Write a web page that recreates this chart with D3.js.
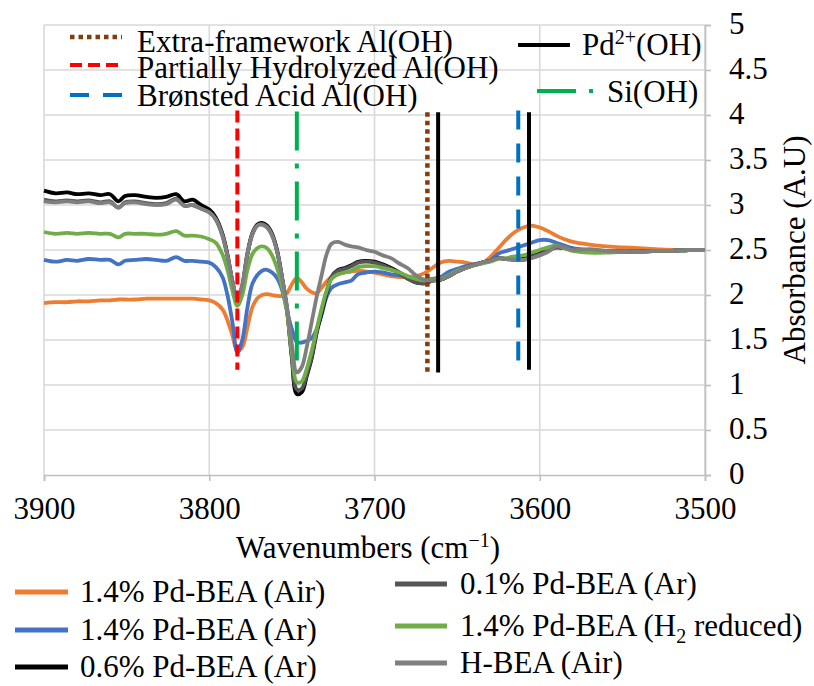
<!DOCTYPE html>
<html>
<head>
<meta charset="utf-8">
<script src="https://cdn.jsdelivr.net/npm/d3@7"></script>
<style>
  html, body { margin: 0; padding: 0; background: #fff; }
  svg { display: block; }
  svg text { font-family: "Liberation Serif", "Times New Roman", Tinos, "DejaVu Serif", "Noto Serif", serif; }
</style>
</head>
<body>
<svg id="chart" width="814" height="686"></svg>
<script>
// Wavenumber grid (cm^-1) shared by every spectrum
const wavenumbers = [3900,3893,3886,3880,3873,3866,3860,3855,3851,3845,3838,3832,3826,3820,3815,3810,3805,3800,3796,3792,
  3789,3786,3783,3780,3777,3774,3771,3768,3765,3762,3759,3756,3753,3750,3747,3744,3741,3738,3735,3732,
  3729,3726,3722,3718,3714,3710,3705,3700,3695,3690,3685,3680,3675,3670,3665,3660,3655,3650,3645,3640,
  3635,3630,3625,3620,3615,3610,3605,3600,3595,3590,3585,3580,3570,3560,3550,3540,3530,3520,3510,3500];

// Absorbance spectra
const pd14Air = [1.91,1.92,1.92,1.93,1.93,1.94,1.94,1.95,1.95,1.95,1.96,1.96,1.96,1.96,1.96,1.96,1.95,1.94,1.91,1.84,
  1.72,1.55,1.38,1.42,1.63,1.86,1.96,2.00,2.01,2.00,1.99,1.99,2.02,2.12,2.19,2.14,2.07,2.03,2.02,2.08,
  2.15,2.20,2.23,2.25,2.26,2.27,2.26,2.25,2.23,2.21,2.20,2.20,2.21,2.24,2.30,2.36,2.38,2.37,2.36,2.34,
  2.35,2.42,2.52,2.62,2.70,2.75,2.77,2.75,2.71,2.66,2.62,2.59,2.56,2.54,2.53,2.52,2.51,2.50,2.50,2.50];
const pd14Ar = [2.39,2.37,2.39,2.38,2.40,2.39,2.39,2.34,2.38,2.39,2.40,2.39,2.38,2.42,2.38,2.38,2.37,2.36,2.31,2.20,
  2.00,1.70,1.36,1.50,1.85,2.12,2.22,2.27,2.28,2.25,2.19,2.06,1.83,1.62,1.48,1.47,1.49,1.52,1.62,1.78,
  1.98,2.08,2.12,2.14,2.16,2.23,2.25,2.26,2.25,2.23,2.22,2.20,2.18,2.17,2.18,2.20,2.26,2.29,2.32,2.34,
  2.36,2.38,2.46,2.49,2.52,2.55,2.58,2.61,2.61,2.58,2.55,2.52,2.50,2.49,2.49,2.49,2.49,2.49,2.50,2.50];
const pd06Ar = [3.16,3.13,3.14,3.12,3.13,3.11,3.12,3.04,3.10,3.11,3.09,3.08,3.09,3.12,3.04,3.06,3.00,2.95,2.86,2.68,
  2.45,2.15,1.93,2.10,2.45,2.68,2.78,2.80,2.77,2.68,2.50,2.20,1.85,1.30,0.90,0.92,1.10,1.30,1.58,1.80,
  2.02,2.20,2.28,2.30,2.33,2.37,2.38,2.37,2.34,2.30,2.25,2.19,2.14,2.13,2.16,2.17,2.21,2.26,2.30,2.33,
  2.36,2.38,2.41,2.40,2.40,2.40,2.43,2.46,2.50,2.53,2.52,2.50,2.49,2.48,2.48,2.48,2.49,2.49,2.50,2.50];
const pd01Ar = [3.06,3.04,3.05,3.04,3.05,3.03,3.04,2.97,3.03,3.04,3.02,3.01,3.02,3.07,2.99,3.00,2.96,2.92,2.84,2.66,
  2.43,2.14,1.94,2.10,2.44,2.67,2.77,2.79,2.76,2.67,2.49,2.19,1.84,1.32,0.95,0.96,1.12,1.32,1.60,1.82,
  2.03,2.20,2.27,2.29,2.32,2.36,2.37,2.36,2.33,2.29,2.24,2.18,2.14,2.13,2.16,2.17,2.21,2.26,2.30,2.33,
  2.36,2.38,2.41,2.40,2.39,2.39,2.42,2.45,2.49,2.53,2.52,2.50,2.49,2.48,2.48,2.48,2.49,2.49,2.50,2.50];
const pd14H2 = [2.70,2.68,2.69,2.68,2.69,2.68,2.68,2.64,2.68,2.68,2.68,2.67,2.68,2.71,2.66,2.66,2.65,2.62,2.58,2.45,
  2.28,2.05,1.88,2.00,2.27,2.45,2.52,2.54,2.52,2.44,2.30,2.10,1.82,1.35,1.03,1.04,1.18,1.38,1.62,1.85,
  2.05,2.18,2.23,2.25,2.27,2.31,2.32,2.32,2.30,2.28,2.25,2.21,2.18,2.16,2.17,2.18,2.22,2.27,2.30,2.33,
  2.35,2.37,2.40,2.41,2.43,2.44,2.47,2.50,2.53,2.55,2.52,2.49,2.47,2.47,2.48,2.48,2.49,2.49,2.50,2.50];
const hbeaAir = [3.04,3.03,3.04,3.03,3.04,3.02,3.03,2.97,3.02,3.03,3.01,3.00,3.01,3.06,2.99,3.00,2.96,2.92,2.84,2.66,
  2.44,2.16,1.96,2.12,2.45,2.67,2.77,2.78,2.75,2.66,2.49,2.20,1.88,1.45,1.14,1.20,1.42,1.70,1.98,2.22,
  2.45,2.57,2.59,2.56,2.54,2.53,2.50,2.48,2.44,2.41,2.35,2.30,2.22,2.17,2.16,2.17,2.21,2.26,2.30,2.33,
  2.36,2.38,2.41,2.40,2.39,2.39,2.41,2.44,2.48,2.54,2.53,2.50,2.51,2.49,2.48,2.48,2.49,2.49,2.50,2.50];

const seriesNames = ["1.4% Pd-BEA (Air)", "1.4% Pd-BEA (Ar)", "0.6% Pd-BEA (Ar)",
  "0.1% Pd-BEA (Ar)", "1.4% Pd-BEA (H2 reduced)", "H-BEA (Air)"];
const seriesValues = [pd14Air, pd14Ar, pd06Ar, pd01Ar, pd14H2, hbeaAir];

// Band assignment markers: position and vertical extent (absorbance)
const markerNames = ["Extra-framework Al(OH)", "Partially Hydrolyzed Al(OH)", "Brønsted Acid Al(OH)",
  "Pd2+(OH)", "Pd2+(OH)", "Si(OH)"];
const markerWn = [3668, 3783, 3613, 3661.5, 3606.5, 3747];
const markerTop = [4.03, 4.05, 4.05, 4.03, 4.03, 4.04];
const markerBottom = [1.13, 1.17, 1.26, 1.14, 1.17, 1.27];

const xTicks = [3900, 3800, 3700, 3600, 3500];
const yTicks = [0, 0.5, 1, 1.5, 2, 2.5, 3, 3.5, 4, 4.5, 5];

// ---- styling ----
const seriesColors = ["#ED7D31", "#4472C4", "#000000", "#555555", "#70AD47", "#7F7F7F"];
const markerStyles = [
  { color: "#843C0C", dash: "4.5,4" },
  { color: "#FF0000", dash: "12,6" },
  { color: "#0070C0", dash: "19,14" },
  { color: "#000000", dash: null },
  { color: "#000000", dash: null },
  { color: "#00B050", dash: "39,13,5,13" }
];
const FONT = 31;

const svg = d3.select("#chart");
const x = d3.scaleLinear().domain([3900, 3500]).range([44, 705]);
const y = d3.scaleLinear().domain([0, 5]).range([475, 25]);

// gridlines
const grid = svg.append("g").attr("stroke", "#d9d9d9").attr("stroke-width", 1.6);
grid.selectAll("line.h").data(yTicks.filter(d => d > 0)).join("line")
  .attr("x1", x(3900)).attr("x2", x(3500)).attr("y1", d => y(d)).attr("y2", d => y(d));
grid.selectAll("line.v").data(xTicks).join("line")
  .attr("x1", d => x(d)).attr("x2", d => x(d)).attr("y1", y(0)).attr("y2", y(5));

// axes
const xAxis = svg.append("g").attr("transform", `translate(0,${y(0)})`)
  .call(d3.axisBottom(x).tickValues(xTicks).tickSize(6).tickPadding(20).tickFormat(d3.format("d")));
const yAxis = svg.append("g").attr("transform", `translate(${x(3500)},0)`)
  .call(d3.axisRight(y).tickValues(yTicks).tickSize(6).tickPadding(18).tickFormat(d => String(d)));
[xAxis, yAxis].forEach(a => {
  a.attr("font-family", null).attr("font-size", null);
  a.select(".domain").attr("stroke", "#bfbfbf").attr("stroke-width", 1.6);
  a.selectAll(".tick line").attr("stroke", "#bfbfbf").attr("stroke-width", 1.6);
  a.selectAll(".tick text").attr("fill", "#000").attr("font-size", FONT);
});
xAxis.selectAll(".tick text").attr("dy", "0.71em").attr("y", 22);
yAxis.selectAll(".tick text").attr("dy", "0.27em");

// spectra
const line = d3.line().x((d, i) => x(wavenumbers[i])).y(d => y(d)).curve(d3.curveCatmullRom.alpha(0.5));
svg.append("g").selectAll("path").data(seriesValues).join("path")
  .attr("d", d => line(d))
  .attr("fill", "none")
  .attr("stroke", (d, i) => seriesColors[i])
  .attr("stroke-width", 3.8)
  .attr("stroke-linejoin", "round");

// band markers
svg.append("g").selectAll("line").data(markerWn).join("line")
  .attr("x1", d => x(d)).attr("x2", d => x(d))
  .attr("y1", (d, i) => y(markerTop[i])).attr("y2", (d, i) => y(markerBottom[i]))
  .attr("stroke", (d, i) => markerStyles[i].color)
  .attr("stroke-width", (d, i) => i === 0 ? 4.5 : 4)
  .attr("stroke-dasharray", (d, i) => markerStyles[i].dash);

// ---- top legend (band assignments) ----
function richText(g, px, py, parts) {
  const t = g.append("text").attr("x", px).attr("y", py).attr("font-size", FONT).attr("fill", "#000");
  parts.forEach(p => {
    const s = t.append("tspan").text(p.t);
    if (p.size) s.attr("font-size", p.size);
    if (p.dy) s.attr("dy", p.dy);
  });
  return t;
}
const topLegend = svg.append("g");
const topItems = [
  { m: 0, x1: 70, x2: 122, ly: 37, tx: 137, ty: 52, parts: [{ t: "Extra-framework Al(OH)" }] },
  { m: 1, x1: 70, x2: 122, ly: 65, tx: 137, ty: 78, parts: [{ t: "Partially Hydrolyzed Al(OH)" }] },
  { m: 2, x1: 70, x2: 122, ly: 95, tx: 137, ty: 106, parts: [{ t: "Brønsted Acid Al(OH)" }] },
  { m: 3, x1: 518, x2: 570, ly: 45, tx: 582, ty: 55,
    parts: [{ t: "Pd" }, { t: "2+", size: 20, dy: -11 }, { t: "(OH)", size: FONT, dy: 11 }] },
  { m: 5, x1: 537, x2: 593, ly: 91, tx: 607, ty: 102, parts: [{ t: "Si(OH)" }] }
];
topItems.forEach(it => {
  topLegend.append("line").attr("x1", it.x1).attr("x2", it.x2).attr("y1", it.ly).attr("y2", it.ly)
    .attr("stroke", markerStyles[it.m].color).attr("stroke-width", it.m === 0 ? 4.5 : 4)
    .attr("stroke-dasharray", markerStyles[it.m].dash);
  richText(topLegend, it.tx, it.ty, it.parts);
});

// ---- bottom legend (samples) ----
const bottomLegend = svg.append("g");
const legendPos = [
  { x1: 15, x2: 68, ly: 592, tx: 80 },
  { x1: 15, x2: 68, ly: 630, tx: 80 },
  { x1: 15, x2: 68, ly: 667, tx: 80 },
  { x1: 395, x2: 447, ly: 584, tx: 460 },
  { x1: 395, x2: 447, ly: 626, tx: 460 },
  { x1: 395, x2: 447, ly: 663, tx: 460 }
];
seriesNames.forEach((name, i) => {
  const p = legendPos[i];
  bottomLegend.append("line").attr("x1", p.x1).attr("x2", p.x2).attr("y1", p.ly).attr("y2", p.ly)
    .attr("stroke", seriesColors[i]).attr("stroke-width", 5);
  const m = name.match(/^(.*\(H)2( reduced\))$/);
  const parts = m
    ? [{ t: m[1] }, { t: "2", size: 20, dy: 7 }, { t: m[2], size: FONT, dy: -7 }]
    : [{ t: name }];
  richText(bottomLegend, p.tx, p.ly + 10, parts);
});

// ---- axis titles ----
richText(svg, 368, 558, [{ t: "Wavenumbers (cm" }, { t: "−1", size: 20, dy: -11 }, { t: ")", size: FONT, dy: 11 }])
  .attr("text-anchor", "middle");
svg.append("text").attr("transform", "translate(805,250) rotate(-90)")
  .attr("text-anchor", "middle").attr("font-size", FONT).attr("fill", "#000")
  .text("Absorbance (A.U)");
</script>
</body>
</html>
